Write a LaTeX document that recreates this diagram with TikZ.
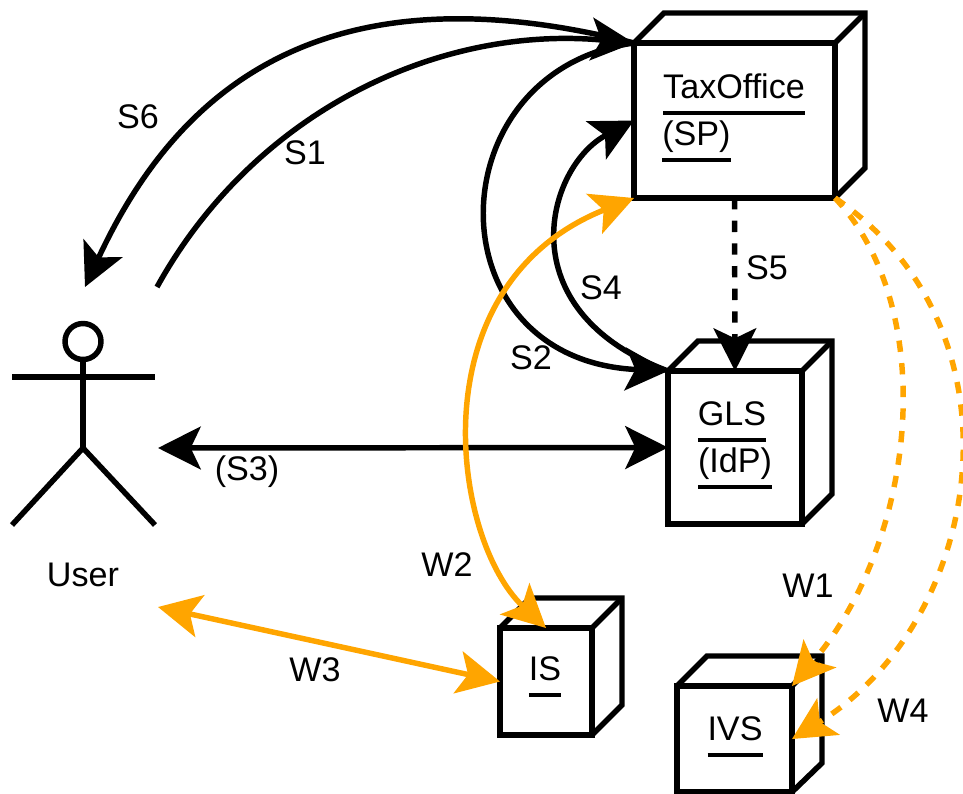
\documentclass[tikz,border=0pt]{standalone}
\usepackage{fontspec}
\setmainfont{Liberation Sans}
\usetikzlibrary{arrows.meta}
\definecolor{wcol}{HTML}{FFA500}
\newcommand{\ultext}[1]{\setbox0\hbox{#1}\hbox{\copy0\llap{\rule[-12.4pt]{\wd0}{2.4pt}}}}
\newcommand{\cubeback}[3]{% node, width px, height px
  \draw[cubeline] (#1.north west) -- ++(30,-30) -- ++(#2,0) -- ++(0,#3) -- (#1.south east);
  \draw[cubeline] (#1.north east) -- ++(30,-30);
}
\tikzset{
  x=0.75pt,y=-0.75pt,
  cubeline/.style={line width=4.1pt,line join=miter},
  cubefront/.style={draw,line width=4.1pt,rectangle,inner sep=0pt,outer sep=0pt,fill=white},
  lbl/.style={font=\fontsize{25.6}{30}\selectfont,inner sep=0pt,anchor=base},
  tipb/.tip={Stealth[length=32pt,width=32pt,inset=7.5pt]},
  conn/.style={line width=4.1pt},
  wconn/.style={line width=4.1pt,draw=wcol,color=wcol},
  dashy/.style={dash pattern=on 8.5pt off 8.5pt},
}
\begin{document}
\begin{tikzpicture}
\useasboundingbox (0,0) rectangle (963,793);
% cubes
\node[cubefront,minimum width=150.75pt,minimum height=116.25pt] (tax) at (734.5,120.5) {};
\cubeback{tax}{201}{155}
\node[cubefront,minimum width=100.5pt,minimum height=114.75pt] (gls) at (735,447.5) {};
\cubeback{gls}{134}{153}
\node[cubefront,minimum width=69pt,minimum height=80.25pt] (is) at (546,681.5) {};
\cubeback{is}{92}{107}
\node[cubefront,minimum width=86.25pt,minimum height=79.5pt] (ivs) at (734.5,739) {};
\cubeback{ivs}{115}{107}
% cube labels
\node[lbl] (taxa) at (734,98) {\ultext{TaxOffice}};
\node[lbl,anchor=base west] (taxb) at (662,145) {\ultext{(SP)}};
\node[lbl] (glsa) at (732,425) {\ultext{GLS}};
\node[lbl] (glsb) at (735,472) {\ultext{(IdP)}};
\node[lbl] (islbl) at (545,680) {\ultext{IS}};
\node[lbl] (ivslbl) at (735,740) {\ultext{IVS}};
% actor
\node[draw,circle,line width=4.1pt,minimum size=27pt,inner sep=0pt,outer sep=0pt] (head) at (83,341.5) {};
\coordinate (hip) at (83,448);
\coordinate (armL) at (12,377);
\coordinate (armR) at (155,377);
\coordinate (legL) at (12,525);
\coordinate (legR) at (155,525);
\draw[conn] (head.south) -- (hip);
\draw[conn] (armL) -- (armR);
\draw[conn] (legL) -- (hip) -- (legR);
\node[lbl] (user) at (83,586) {User};
% user connection points
\coordinate (uS6) at (85,287);
\coordinate (uS1) at (157,287);
\coordinate (uS3) at (158,448);
\coordinate (uW3) at (158,607);
% black connectors
\draw[conn,-{tipb}] (tax.north west) .. controls (319,-37) and (175,93) .. (uS6);
\draw[conn,-{tipb}] (uS1) .. controls (255,110) and (440,25) .. (tax.north west);
\draw[conn,-{tipb}] (tax.north west) .. controls (435,70) and (430,360) .. (gls.north west);
\draw[conn,-{tipb}] (gls.north west) .. controls (505,310) and (547,166) .. (tax.west);
\draw[conn,{tipb}-{tipb}] (uS3) -- (gls.west);
\draw[conn,dashy,-{tipb}] (tax.south) -- (gls.north);
% orange connectors
\draw[wconn,{tipb}-{tipb}] (tax.south west) .. controls (415,285) and (452,540) .. (is.north);
\draw[wconn,{tipb}-{tipb}] (uW3) -- (is.west);
\draw[wconn,dashy,-{tipb}] (tax.south east) .. controls (940,310) and (917,540) .. (ivs.north east);
\draw[wconn,dashy,-{tipb}] (tax.south east) .. controls (1030,330) and (985,620) .. (ivs.east);
% connector labels
\node[lbl] (s6) at (138,128) {S6};
\node[lbl] (s1) at (305,164) {S1};
\node[lbl] (s5) at (767,279) {S5};
\node[lbl] (s4) at (601,299) {S4};
\node[lbl] (s2) at (531,369) {S2};
\node[lbl] (s3) at (247,480) {(S3)};
\node[lbl] (w2) at (447,576) {W2};
\node[lbl] (w3) at (315,681) {W3};
\node[lbl] (w1) at (808,597) {W1};
\node[lbl] (w4) at (903,722) {W4};
\end{tikzpicture}
\end{document}
